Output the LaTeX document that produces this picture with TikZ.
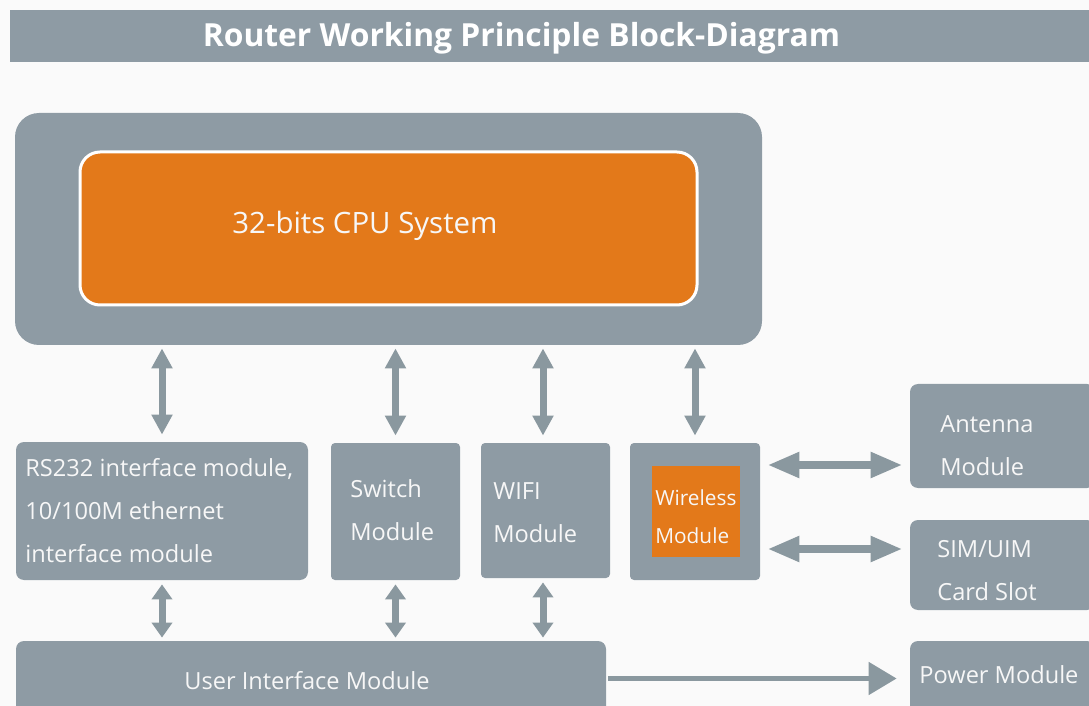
\documentclass[tikz,border=0pt]{standalone}
\usepackage{fontspec}
\setmainfont{Open Sans}
\usetikzlibrary{arrows.meta,calc}
\definecolor{boxgray}{HTML}{8E9BA4}
\definecolor{arrgray}{HTML}{8A989F}
\definecolor{cpuorange}{HTML}{E3791A}
\definecolor{bg}{HTML}{FAFAFA}
\definecolor{txtwhite}{HTML}{F7F7F7}
\tikzset{
  box/.style={fill=boxgray, draw=none, rounded corners=4pt, inner sep=0pt},
  lbl/.style={text=txtwhite, align=left, inner sep=0pt, anchor=west, font=\fontsize{11.8}{21.5}\selectfont},
  varrow/.style={draw=arrgray, line width=3.5pt, {Triangle[width=10pt,length=10pt]}-{Triangle[width=10pt,length=10pt]}},
  vsarrow/.style={draw=arrgray, line width=3.5pt, {Triangle[width=10pt,length=7.5pt]}-{Triangle[width=10pt,length=7.5pt]}},
  harrow/.style={draw=arrgray, line width=4pt, {Triangle[width=12pt,length=16pt]}-{Triangle[width=12pt,length=16pt]}},
  parrow/.style={draw=arrgray, line width=2.5pt, -{Triangle[width=16pt,length=14pt]}},
}
\begin{document}
\begin{tikzpicture}[x=0.5pt,y=-0.5pt]
\useasboundingbox (0,0) rectangle (1089,706);
\clip (0,0) rectangle (1089,706);
\fill[bg] (0,0) rectangle (1089,706);
% title
\node[fill=boxgray, minimum width=539.5pt, minimum height=26pt, inner sep=0pt] (titlebar) at (549.5,36) {};
\node[text=white, font=\bfseries\fontsize{15.9}{18}\selectfont, inner sep=0pt] (title) at (521.5,38) {Router Working Principle Block-Diagram};
% CPU
\node[box, rounded corners=12pt, minimum width=373.5pt, minimum height=116pt] (cpu) at (388.5,229) {};
\node[fill=cpuorange, draw=white, line width=1.5pt, rounded corners=10pt, minimum width=308.5pt, minimum height=76.5pt, inner sep=0pt] (cpuin) at (388.5,228.5) {};
\node[text=txtwhite, font=\fontsize{14.7}{18}\selectfont, inner sep=0pt, anchor=west] (cputxt) at (232,226) {32-bits CPU System};
% middle row
\node[box, minimum width=146pt, minimum height=69pt] (rs) at (162,511) {};
\node[lbl] (rstxt) at (25,511) {RS232 interface module,\\10/100M ethernet\\interface module};
\node[box, rounded corners=2pt, minimum width=64.5pt, minimum height=68.5pt] (sw) at (395.5,511.5) {};
\node[lbl] (swtxt) at (350,510.5) {Switch\\Module};
\node[box, rounded corners=2pt, minimum width=64.5pt, minimum height=67.5pt] (wifi) at (545.5,510.5) {};
\node[lbl] (wifitxt) at (493,512.5) {WIFI\\Module};
\node[box, rounded corners=2pt, minimum width=65pt, minimum height=68.5pt] (wl) at (695,511.5) {};
\node[fill=cpuorange, minimum width=44pt, minimum height=45.5pt, inner sep=0pt] (wlin) at (696,511.5) {};
\node[lbl, font=\fontsize{10.4}{19}\selectfont] (wltxt) at (655,517) {Wireless\\Module};
% bottom
\node[box, minimum width=295pt, minimum height=37.5pt] (ui) at (311,678.5) {};
\node[text=txtwhite, font=\fontsize{11.8}{14}\selectfont, inner sep=0pt] (uitxt) at (307,681) {User Interface Module};
% right column
\node[box, minimum width=92.5pt, minimum height=52pt] (ant) at (1002.5,436) {};
\node[lbl] (anttxt) at (940,445.5) {Antenna\\Module};
\node[box, minimum width=92.5pt, minimum height=45pt] (sim) at (1002.5,565) {};
\node[lbl] (simtxt) at (937,571) {SIM/UIM\\Card Slot};
\node[box, minimum width=92.5pt, minimum height=37.5pt] (pw) at (1002.5,678.5) {};
\node[lbl] (pwtxt) at (919,675) {Power Module};
% connectors
\draw[varrow, shorten <=1.5pt, shorten >=3.5pt] (cpu.south -| rs.north) -- (rs.north);
\draw[varrow, shorten <=1.5pt, shorten >=3.5pt] (cpu.south -| sw.north) -- (sw.north);
\draw[varrow, shorten <=1.5pt, shorten >=3.5pt] ([xshift=-1.25pt]cpu.south -| wifi.north) -- ([xshift=-1.25pt]wifi.north);
\draw[varrow, shorten <=1.5pt, shorten >=3.5pt] (cpu.south -| wl.north) -- (wl.north);
\draw[vsarrow, shorten <=2pt, shorten >=1.5pt] (rs.south) -- (rs.south |- ui.north);
\draw[vsarrow, shorten <=2pt, shorten >=1.5pt] (sw.south) -- (sw.south |- ui.north);
\draw[vsarrow, shorten <=2pt, shorten >=1.5pt] ([xshift=-1.25pt]wifi.south) -- ([xshift=-1.25pt]wifi.south |- ui.north);
\draw[harrow, shorten <=3.5pt, shorten >=3.5pt] ([yshift=23.25pt]wl.east) -- ([yshift=23.25pt]wl.east -| ant.west);
\draw[harrow, shorten <=3.5pt, shorten >=3.5pt] ([yshift=-18.75pt]wl.east) -- ([yshift=-18.75pt]wl.east -| sim.west);
\draw[parrow, shorten <=1pt, shorten >=6.5pt] (ui.east) -- (pw.west);
\end{tikzpicture}
\end{document}
